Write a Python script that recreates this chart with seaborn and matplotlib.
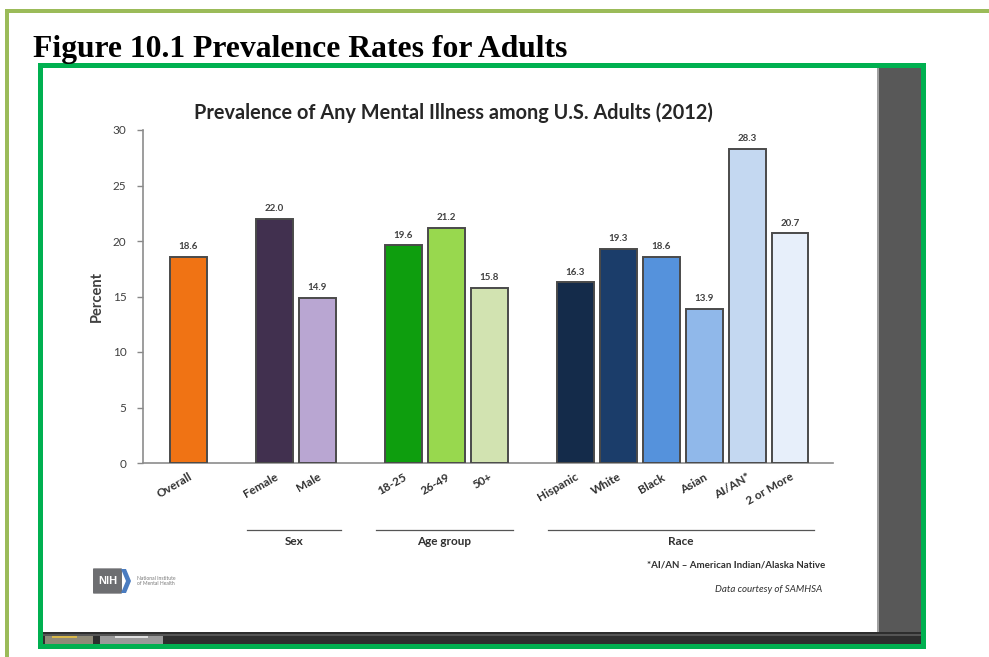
import numpy as np
import pandas as pd
import matplotlib
matplotlib.use("Agg")
import matplotlib.pyplot as plt
import seaborn as sns
from matplotlib.patches import Rectangle, FancyBboxPatch, Polygon
from matplotlib.lines import Line2D

# ---------------- data ----------------
categories = ["Overall", "Female", "Male", "18-25", "26-49", "50+",
              "Hispanic", "White", "Black", "Asian", "AI/AN*", "2 or More"]
values = [18.6, 22.0, 14.9, 19.6, 21.2, 15.8, 16.3, 19.3, 18.6, 13.9, 28.3, 20.7]
groups = ["Overall", "Sex", "Sex", "Age group", "Age group", "Age group",
          "Race", "Race", "Race", "Race", "Race", "Race"]
group_labels = ["Sex", "Age group", "Race"]
bar_colors = ["#F07314", "#41304F", "#B9A6D2", "#0E9E0E", "#98D84E", "#D2E3B1",
              "#142B4A", "#1B3D6A", "#5592DC", "#90B8EA", "#C4D8F1", "#E7EFFA"]
yticks = [0, 5, 10, 15, 20, 25, 30]

# slot positions: one slot per bar, one empty slot between groups
positions = []
slot = 0
for i, g in enumerate(groups):
    if i > 0 and g != groups[i - 1]:
        slot += 1
    positions.append(slot)
    slot += 1

df = pd.DataFrame({"category": categories, "value": values,
                   "group": groups, "pos": positions})

W, H = 989, 657
fig = plt.figure(figsize=(W / 100, H / 100), dpi=100)
fig.patch.set_facecolor("white")


def fx(x):
    return x / W


def fy(y):
    return 1 - y / H


def prect(x0, y0, x1, y1, color, z=-5, **kw):
    fig.patches.append(Rectangle((fx(x0), fy(y1)), fx(x1) - fx(x0), fy(y0) - fy(y1),
                                 transform=fig.transFigure, facecolor=color,
                                 edgecolor="none", zorder=z, **kw))


# ---------------- page frame ----------------
prect(5, 9, 989, 13, "#9BBB59")
prect(5, 9, 9, 657, "#9BBB59")
fig.text(fx(33), fy(57), "Figure 10.1 Prevalence Rates for Adults",
         family="Liberation Serif", weight="bold", fontsize=22.8,
         color="black", ha="left", va="baseline")
prect(38, 63, 926, 649, "#00B050")
prect(43, 68, 921, 644, "white")
prect(878, 68, 921, 632, "#585858")
prect(877, 68, 879, 632, "#A0A0A0")
prect(43, 632, 921, 644, "#2E2E2E")
prect(43, 634, 921, 636, "#555555")
prect(45, 636, 93, 644, "#8F8A78")
prect(52, 636, 77, 638, "#D9B84A")
prect(100, 636, 163, 644, "#9A9A9A")
prect(115, 636, 148, 638, "#E0E0E0")

# ---------------- chart ----------------
ax = fig.add_axes([fx(143), fy(463), fx(833) - fx(143), fy(130) - fy(463)])
ax.set_zorder(10)
ax.patch.set_alpha(0)
sns.barplot(data=df, x="pos", y="value", hue="category", hue_order=categories,
            palette=bar_colors, saturation=1, native_scale=True, width=0.86,
            dodge=False, edgecolor="#4A4A4A", linewidth=1.4, legend=False,
            ax=ax, zorder=3)

for cont in ax.containers:
    ax.bar_label(cont, fmt="%.1f", padding=4, fontsize=7, color="#404040",
                 family="Lato", weight="bold")

ax.set_xlim(-1.05, 15.0)
ax.set_ylim(0, 30)
ax.set_yticks(yticks)
ax.set_yticklabels([str(t) for t in yticks], fontsize=8.5, color="#404040",
                   family="Lato")
ax.set_xticks(df["pos"])
ax.set_xticklabels(categories, rotation=30, ha="right", rotation_mode="anchor",
                   fontsize=8.5, color="#303030", family="Lato", weight="bold")
ax.tick_params(axis="x", length=0, pad=6)
ax.tick_params(axis="y", length=4, width=1, color="#888888", pad=8)
ax.set_xlabel("")
ax.set_ylabel("Percent", fontsize=10.5, family="Lato", weight="bold",
              color="#404040", labelpad=6)
for side in ["top", "right"]:
    ax.spines[side].set_visible(False)
for side in ["left", "bottom"]:
    ax.spines[side].set_color("#8C8C8C")
    ax.spines[side].set_linewidth(1.2)
ax.grid(False)

ax.set_title("Prevalence of Any Mental Illness among U.S. Adults (2012)",
             fontsize=14.3, family="Lato", weight="bold", color="#262626",
             pad=8, x=(453 - 143) / (833 - 143))

# group brackets under the x labels
trans = ax.get_xaxis_transform()
for g in group_labels:
    p = df.loc[df["group"] == g, "pos"]
    x0, x1 = p.min() - 0.63, p.max() + 0.55
    ax.add_line(Line2D([x0, x1], [-0.201, -0.201], transform=trans,
                       color="#555555", linewidth=0.9, clip_on=False))
    ax.text((x0 + x1) / 2, -0.237, g, transform=trans, ha="center", va="center",
            fontsize=8.5, family="Lato", weight="bold", color="#303030")

# footnotes
fig.text(fx(825), fy(565), "*AI/AN \u2013 American Indian/Alaska Native",
         ha="right", va="center", fontsize=7, family="Lato", weight="bold",
         color="#303030")
fig.text(fx(822), fy(589), "Data courtesy of SAMHSA", ha="right", va="center",
         fontsize=7, family="Lato", style="italic", color="#303030")

# NIH logo
fig.patches.append(FancyBboxPatch((fx(94), fy(593)), fx(121) - fx(94), fy(569) - fy(593),
                                  boxstyle="round,pad=0.001", transform=fig.transFigure,
                                  facecolor="#6D6E71", edgecolor="none", zorder=2))
fig.patches.append(Polygon([(fx(121), fy(569)), (fx(126), fy(569)), (fx(131), fy(581)),
                            (fx(126), fy(593)), (fx(121), fy(593)), (fx(126), fy(581))],
                           closed=True, transform=fig.transFigure,
                           facecolor="#4A7CC0", edgecolor="none", zorder=2))
fig.text(fx(107.5), fy(581), "NIH", ha="center", va="center", color="white",
         fontsize=8, family="Liberation Sans", weight="bold", zorder=3)
fig.text(fx(137), fy(581), "National Institute\nof Mental Health", ha="left",
         va="center", color="#777777", fontsize=3.6, family="Lato", linespacing=1.1)

fig.savefig("out.png", dpi=100, facecolor="white")
